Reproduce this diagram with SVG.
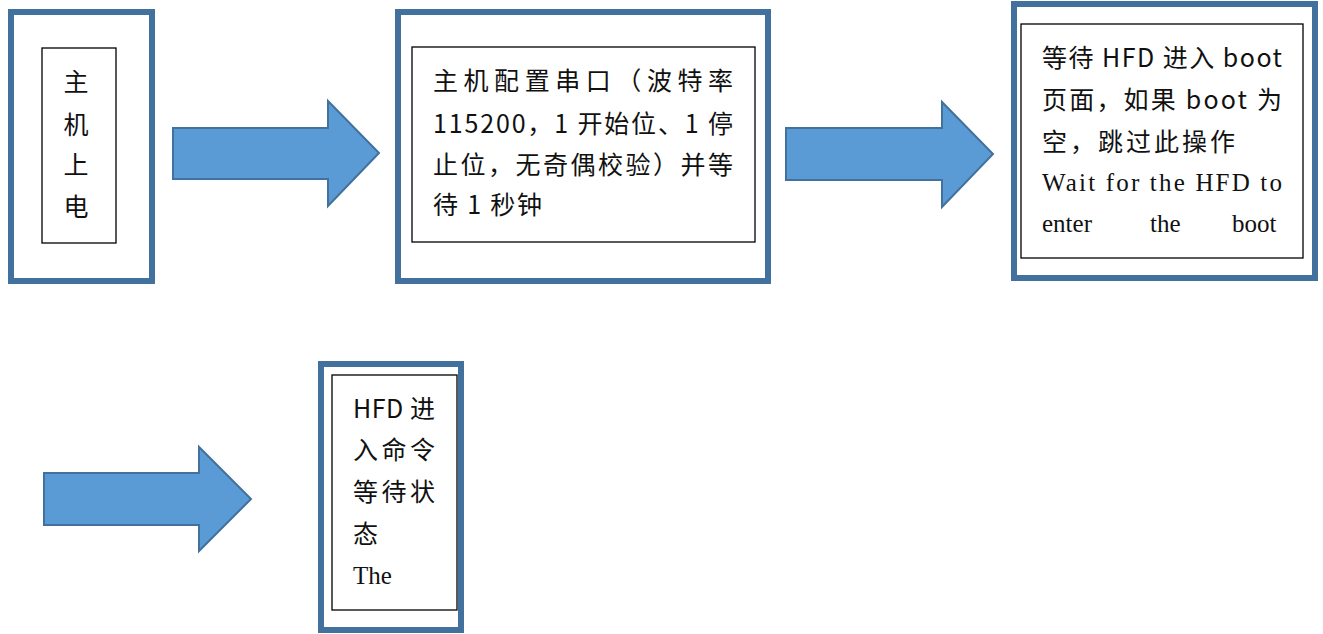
<svg xmlns="http://www.w3.org/2000/svg" width="1323" height="634" viewBox="0 0 1323 634">
<style>
.outer{fill:#fff;stroke:#41719C;stroke-width:6}
.inner{fill:#fff;stroke:#000;stroke-width:1.3}
.arrow{fill:#5B9BD5;stroke:#41719C;stroke-width:2;stroke-linejoin:miter}
.t{font-family:"Noto Sans CJK SC","Noto Sans",sans-serif;font-size:25px;fill:#111;dominant-baseline:central}
.s{font-family:"Liberation Serif","Noto Sans CJK SC",serif;font-size:25px;fill:#111;dominant-baseline:central}
</style>
<rect width="1323" height="634" fill="#fff"/>
<g id="connectors">
<polygon class="arrow" points="173,128 328,128 328,101 379,153 328,206 328,179 173,179"/>
<polygon class="arrow" points="786,128 942,128 942,102 993,154 942,207 942,180 786,180"/>
<polygon class="arrow" points="44,473 199,473 199,447 251,499 199,551 199,525 44,525"/>
</g>
<g id="node1">
<rect class="outer" x="11" y="12" width="141" height="269"/>
<rect class="inner" x="42" y="48" width="74" height="195"/>
<text class="t" x="76" y="80" text-anchor="middle">主</text>
<text class="t" x="76" y="123" text-anchor="middle">机</text>
<text class="t" x="76" y="163" text-anchor="middle">上</text>
<text class="t" x="76" y="205" text-anchor="middle">电</text>
</g>
<g id="node2">
<rect class="outer" x="398" y="12" width="370" height="269"/>
<rect class="inner" x="412" y="47" width="343" height="195"/>
<text class="t" x="433" y="79" textLength="300" lengthAdjust="spacing">主机配置串口（波特率</text>
<text class="t" x="433" y="122" textLength="300" lengthAdjust="spacing">115200，1 开始位、1 停</text>
<text class="t" x="433" y="163" textLength="300" lengthAdjust="spacing">止位，无奇偶校验）并等</text>
<text class="t" x="433" y="203" textLength="109" lengthAdjust="spacing">待 1 秒钟</text>
</g>
<g id="node3">
<rect class="outer" x="1014" y="4" width="301" height="274"/>
<rect class="inner" x="1021" y="24" width="282" height="234"/>
<text class="t" x="1042" y="56" textLength="240" lengthAdjust="spacing">等待 HFD 进入 boot</text>
<text class="t" x="1042" y="98" textLength="240" lengthAdjust="spacing">页面，如果 boot 为</text>
<text class="t" x="1042" y="140" textLength="193" lengthAdjust="spacing">空，跳过此操作</text>
<text class="s" x="1042" y="182" textLength="240" lengthAdjust="spacing">Wait for the HFD to</text>
<text class="s" y="223"><tspan x="1042">enter</tspan><tspan x="1150">the</tspan><tspan x="1232">boot</tspan></text>
</g>
<g id="node4">
<rect class="outer" x="321" y="364" width="140" height="266"/>
<rect class="inner" x="332" y="375" width="125" height="235"/>
<text class="t" x="353" y="407" textLength="82" lengthAdjust="spacing">HFD 进</text>
<text class="t" x="353" y="448" textLength="82" lengthAdjust="spacing">入命令</text>
<text class="t" x="353" y="490" textLength="82" lengthAdjust="spacing">等待状</text>
<text class="t" x="353" y="532">态</text>
<text class="s" x="353" y="575">The</text>
</g>
</svg>
